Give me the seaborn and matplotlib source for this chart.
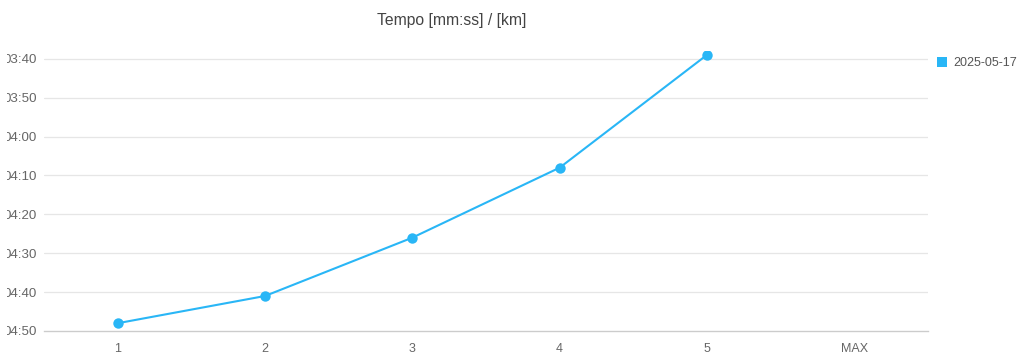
import matplotlib
matplotlib.use("Agg")
import matplotlib.pyplot as plt
import seaborn as sns
import pandas as pd
from matplotlib.transforms import Bbox
from matplotlib.lines import Line2D

categories = ["1", "2", "3", "4", "5", "MAX"]
pace_sec = [288, 281, 266, 248, 219, None]   # seconds per km
series_name = "2025-05-17"
ytick_sec = [220, 230, 240, 250, 260, 270, 280, 290]
ytick_labels = ["03:40", "03:50", "04:00", "04:10", "04:20", "04:30", "04:40", "04:50"]

sns.set_theme(style="white")
plt.rcParams['font.family'] = ['Liberation Sans', 'DejaVu Sans']

df = pd.DataFrame({"cat": categories, "pace": pace_sec, "series": series_name})
df["x"] = range(len(categories))

fig = plt.figure(figsize=(10.24, 3.62), dpi=100)
ax = fig.add_axes([44/1024, 31/362, (928-44)/1024, (331-51)/362])

color = "#29b6f6"
d = df.dropna()
sns.lineplot(data=d, x="x", y="pace", ax=ax, color=color, linewidth=1.5,
             marker="o", markersize=7.5, markeredgewidth=0, legend=False)

ax.set_xlim(-0.5, len(categories) - 0.5)
ax.set_ylim(290, 218)
ax.set_xticks(range(len(categories)))
ax.set_xticklabels(categories)
ax.set_yticks(ytick_sec)
ax.set_yticklabels(ytick_labels)
ax.set_xlabel("")
ax.set_ylabel("")
ax.tick_params(axis="both", length=0, labelsize=9, colors="#666666")
ax.tick_params(axis="y", pad=5, labelsize=9.6)
ax.tick_params(axis="x", pad=9)
for y in ytick_sec[:-1]:
    ax.axhline(y, color="#e6e6e6", linewidth=0.9, zorder=0)
for s in ["top", "right", "left"]:
    ax.spines[s].set_visible(False)
ax.spines["bottom"].set_color("#cccccc")
ax.spines["bottom"].set_linewidth(1.0)

fig.text(452/1024, 1 - 21/362, "Tempo [mm:ss] / [km]", ha="center", va="center",
         fontsize=11.3, color="#444444")

# legend
h = Line2D([], [], marker="s", color="none", markerfacecolor=color,
           markeredgewidth=0, markersize=7.5)
fig.legend([h], [series_name], loc="center left", bbox_to_anchor=(931/1024, 1 - 63/362),
           frameon=False, fontsize=9, labelcolor="#555555", handlelength=1.0,
           handletextpad=0.4, borderaxespad=0)

# clip left part of y tick labels like the reference
fig.canvas.draw()
clip = Bbox.from_extents(7, 0, 1024, 362)
for lbl in ax.get_yticklabels():
    lbl.set_clip_on(True)
    lbl.set_clip_box(clip)

fig.savefig("out.png", dpi=100)
